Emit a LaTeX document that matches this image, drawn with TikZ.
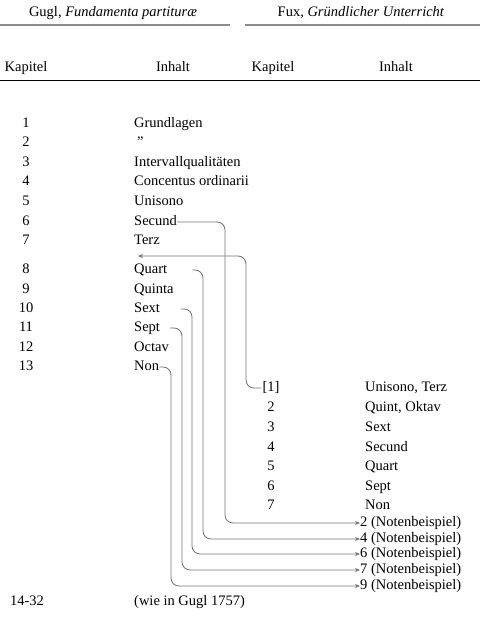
\documentclass[tikz,border=0pt]{standalone}
\usepackage{fontspec}
\setmainfont{Liberation Serif}
\usetikzlibrary{arrows.meta}
\begin{document}
\begin{tikzpicture}[x=1pt,y=-1pt,
  every node/.style={inner sep=0pt, text height=0.68em, text depth=0pt, font=\fontsize{14.5}{17}\selectfont},
  lft/.style={anchor=west},
  link/.style={draw=black!55, line width=0.85pt, rounded corners=8pt},
  tip/.style={-{Stealth[length=5pt,width=4pt]}},
  titlerule/.style={draw=black!45, line width=1.1pt},
  headrule/.style={draw=black, line width=1pt}]
\useasboundingbox (0,0) rectangle (480,618);
% titles
\node (t1) at (113,13) {Gugl, \textit{Fundamenta partituræ}};
\node (t2) at (361,13) {Fux, \textit{Gründlicher Unterricht}};
\coordinate (r1a) at (0,25); \coordinate (r1b) at (230,25);
\coordinate (r2a) at (245,25); \coordinate (r2b) at (480,25);
\draw[titlerule] (r1a) -- (r1b);
\draw[titlerule] (r2a) -- (r2b);
% headers
\node (h1) at (26,68) {Kapitel};
\node (h2) at (173,68) {Inhalt};
\node (h3) at (273,68) {Kapitel};
\node (h4) at (396,68) {Inhalt};
\coordinate (hr1) at (0,80); \coordinate (hr2) at (480,80);
\draw[headrule] (hr1) -- (hr2);
% left Kapitel numbers
\foreach \n/\y in {1/124,2/143,3/163,4/182,5/202,6/222,7/241,8/270,9/290,10/309,11/328,12/348,13/367}
  \node (k\n) at (26,\y) {\n};
% left contents
\node[lft] (g1) at (134,124) {Grundlagen};
\node[lft] (g2) at (137,143) {”};
\node[lft] (g3) at (134,163) {Intervallqualitäten};
\node[lft] (g4) at (134,182) {Concentus ordinarii};
\node[lft] (g5) at (134,202) {Unisono};
\node[lft] (g6) at (134,222) {Secund};
\node[lft] (g7) at (134,241) {Terz};
\node[lft] (g8) at (134,270) {Quart};
\node[lft] (g9) at (134,290) {Quinta};
\node[lft] (g10) at (134,309) {Sext};
\node[lft] (g11) at (134,328) {Sept};
\node[lft] (g12) at (134,348) {Octav};
\node[lft] (g13) at (134,367) {Non};
% right Kapitel numbers
\node (r1) at (271,388) {[1]};
\foreach \n/\y in {2/408,3/428,4/448,5/467,6/487,7/506}
  \node (r\n) at (271,\y) {\n};
% right contents
\node[lft] (f1) at (365,388) {Unisono, Terz};
\node[lft] (f2) at (365,408) {Quint, Oktav};
\node[lft] (f3) at (365,428) {Sext};
\node[lft] (f4) at (365,448) {Secund};
\node[lft] (f5) at (365,467) {Quart};
\node[lft] (f6) at (365,487) {Sept};
\node[lft] (f7) at (365,506) {Non};
% Notenbeispiele
\node[lft] (n2) at (360,523) {2 (Notenbeispiel)};
\node[lft] (n4) at (360,539) {4 (Notenbeispiel)};
\node[lft] (n6) at (360,554) {6 (Notenbeispiel)};
\node[lft] (n7) at (360,570) {7 (Notenbeispiel)};
\node[lft] (n9) at (360,586) {9 (Notenbeispiel)};
% bottom
\node (k14) at (27,602) {14-32};
\node[lft] (g14) at (134,602) {(wie in Gugl 1757)};
% vertical routes
\coordinate (vS) at (225,0);
\coordinate (vT) at (246,0);
\coordinate (vQ) at (203,0);
\coordinate (vX) at (192,0);
\coordinate (vP) at (182,0);
\coordinate (vN) at (171,0);
\coordinate (terztip) at (138,256);
% connectors
\draw[link,tip] (g6.east) -| (vS |- n2.west) -- (n2.west);
\draw[link,tip] ([xshift=-1pt]r1.west) -| (vT |- terztip) -- (terztip);
\draw[link,tip] ([xshift=25pt]g8.east) -| (vQ |- n4.west) -- (n4.west);
\draw[link,tip] ([xshift=21pt]g10.east) -| (vX |- n6.west) -- (n6.west);
\draw[link,tip] ([xshift=10pt]g11.east) -| (vP |- n7.west) -- (n7.west);
\draw[link,tip] (g13.east) -| (vN |- n9.west) -- (n9.west);
\end{tikzpicture}
\end{document}
